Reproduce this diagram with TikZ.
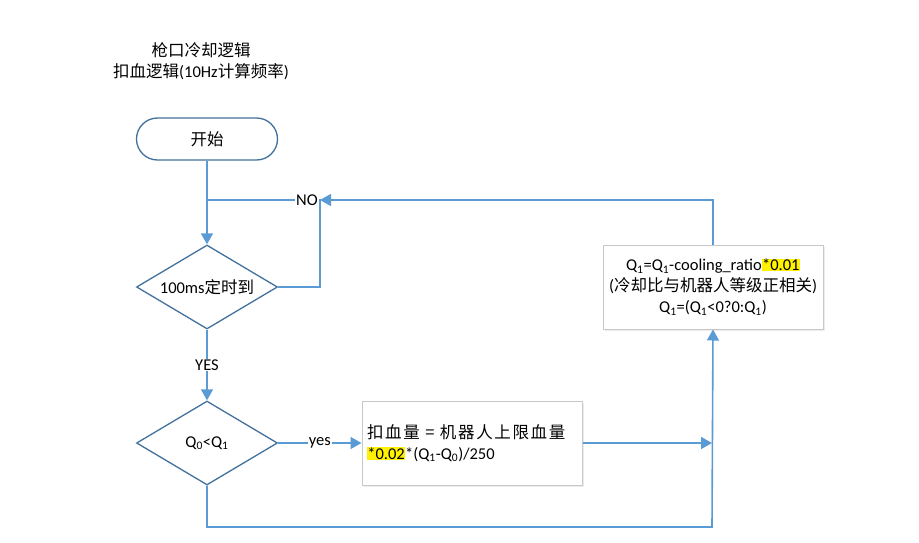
\documentclass[tikz,border=0pt]{standalone}
\usepackage{fontspec}
\setmainfont{Carlito}
\newfontfamily\cjk{Noto Sans CJK SC}
\newfontfamily\cjkw{Noto Sans CJK SC}[LetterSpace=10]
\usetikzlibrary{shapes.geometric,arrows.meta,shadows}
\definecolor{lineblue}{HTML}{5B9BD5}
\definecolor{edgeblue}{HTML}{41719C}
\definecolor{boxgrey}{HTML}{C8C8C8}
\newcommand\hlt[1]{{\setlength\fboxsep{0.3pt}\colorbox{yellow}{#1}}}
\tikzset{
  txt/.style={font=\fontsize{16.5}{21}\selectfont},
  startbox/.style={txt, draw=edgeblue, line width=1.3pt, rectangle, rounded corners=21pt, minimum width=141pt, minimum height=42pt, fill=white},
  decision/.style={txt, draw=edgeblue, line width=1.3pt, diamond, aspect=1.68, minimum width=141pt, minimum height=84pt, inner sep=0pt, fill=white},
  procbox/.style={txt, draw=boxgrey, line width=1pt, rectangle, minimum width=220pt, minimum height=84pt, fill=white, drop shadow={opacity=0.15, shadow xshift=2pt, shadow yshift=-2pt}},
  conn/.style={draw=lineblue, line width=1.6pt},
  arr/.style={conn, -{Triangle[length=11pt,width=12pt]}},
  lbl/.style={txt, fill=white, inner sep=1pt},
}
\begin{document}
\begin{tikzpicture}[x=1pt,y=-1pt]
\useasboundingbox (0,0) rectangle (919,543);
\node[txt, align=center] (title) at (201,61) {{\cjk 枪口冷却逻辑}\\{\cjk 扣血逻辑}(10Hz{\cjk 计算频率})};
\node[startbox] (start) at (207,139) {\cjk 开始};
\node[decision] (d1) at (207,287) {100ms{\cjk 定时到}};
\node[decision] (d2) at (207,443) {Q\textsubscript{0}<Q\textsubscript{1}};
\node[procbox, text width=210pt, inner sep=5pt, align=left] (b2) at (472,443) {{\cjkw 扣血量 = 机器人上限血量}\\\hlt{*0.02}*(Q\textsubscript{1}-Q\textsubscript{0})/250};
\node[procbox, align=center] (b3) at (713,287) {Q\textsubscript{1}=Q\textsubscript{1}-cooling\_ratio\hlt{*0.01}\\({\cjk 冷却比与机器人等级正相关})\\Q\textsubscript{1}=(Q\textsubscript{1}<0?0:Q\textsubscript{1})};
\coordinate (j) at (207,200);
\coordinate (c1) at (320,200);
\coordinate (m) at (712,443);
\coordinate (bl) at (712,527);
\draw[arr] (start.south) -- (d1.north);
\draw[conn] (d1.east) -| (c1) -- node[lbl, pos=0.115] {NO} (j);
\draw[arr] (b3.north) |- (c1);
\draw[arr] (d1.south) -- node[lbl] {YES} (d2.north);
\draw[arr] (d2.east) -- node[lbl] {yes} (b2.west);
\draw[arr] (b2.east) -- (m);
\draw[arr] (d2.south) |- (bl) -- (b3.south);
\end{tikzpicture}
\end{document}
